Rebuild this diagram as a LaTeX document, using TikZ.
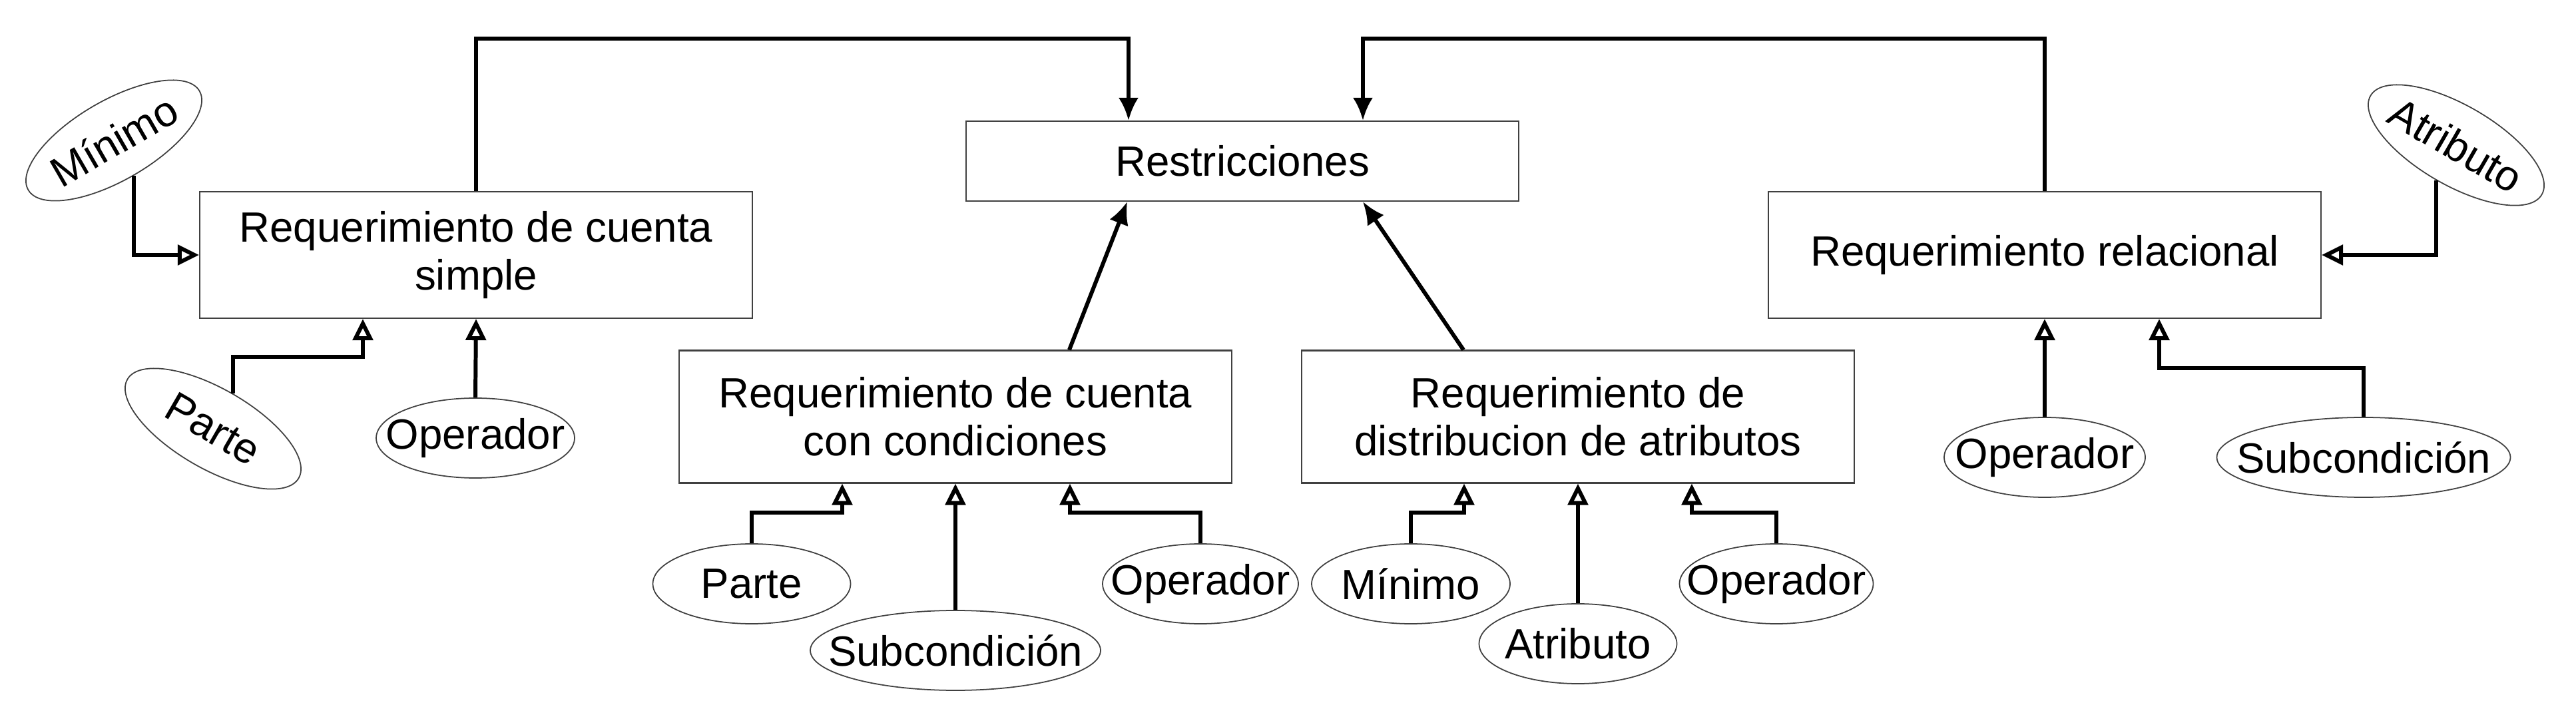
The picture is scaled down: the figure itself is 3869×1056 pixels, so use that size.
\documentclass[tikz,border=0pt]{standalone}
\usepackage{fontspec}
\setmainfont{Liberation Sans}
\usetikzlibrary{shapes.geometric,arrows.meta}
\tikzset{
  box/.style={draw=black!75, line width=0.6pt, minimum width=83mm, align=center,
    font=\fontsize{18.1}{20.5}\selectfont},
  attr/.style={ellipse, draw=black!75, line width=0.5pt, minimum height=12mm,
    inner xsep=-8mm, inner ysep=0pt, font=\fontsize{18.1}{20.5}\selectfont},
  link/.style={line width=1.7pt, -{Triangle[open,length=3.2mm,width=3mm]}},
  feed/.style={line width=1.7pt, -{Latex[length=3.4mm,width=3mm]}}
}
\begin{document}
\begin{tikzpicture}[x=0.1mm,y=-0.1mm]
  \useasboundingbox (0,0) rectangle (3869,1056);
  \draw
    (1866,242) node[box, minimum height=12mm] (restr){Restricciones}
    (715,383) node[box, minimum height=19mm] (simple){Requerimiento de cuenta\\simple}
    (3071,383) node[box, minimum height=19mm] (rel){Requerimiento relacional}
    (1435,626) node[box, minimum height=19.9mm] (cond){Requerimiento de cuenta\\con condiciones}
    (2370,626) node[box, minimum height=19.9mm] (dist){Requerimiento de\\distribucion de atributos};
  \draw
    (171,211) node[attr, minimum width=29.7mm, rotate=30] (minA){Mínimo}
    (320,644) node[attr, minimum width=29.7mm, rotate=-30] (parA){Parte}
    (714,658) node[attr, minimum width=29.8mm] (opA){Operador}
    (1129,877) node[attr, minimum width=29.7mm] (parB){Parte}
    (1435,977) node[attr, minimum width=43.6mm] (subB){Subcondición}
    (1803,877) node[attr, minimum width=29.4mm] (opB){Operador}
    (2119,877) node[attr, minimum width=29.8mm] (minC){Mínimo}
    (2370,967) node[attr, minimum width=29.7mm] (atrC){Atributo}
    (2668,877) node[attr, minimum width=29.1mm] (opC){Operador}
    (3689,218) node[attr, minimum width=29.7mm, rotate=-30] (atrD){Atributo}
    (3071,687) node[attr, minimum width=30.2mm] (opD){Operador}
    (3550,687) node[attr, minimum width=44.1mm] (subD){Subcondición};
  \begin{scope}[link]
    \draw (minA.south) |- (simple.west);
    \draw (parA.north) -- ++(0,-55) -| ([xshift=-17mm]simple.south);
    \draw (opA.north) -- (simple.south);
    \draw (parB.north) -- ++(0,-46) -| ([xshift=-17mm]cond.south);
    \draw (subB.north) -- (cond.south);
    \draw (opB.north) -- ++(0,-46) -| ([xshift=17.2mm]cond.south);
    \draw (minC.north) -- ++(0,-46) -| ([xshift=-17.1mm]dist.south);
    \draw (atrC.north) -- (dist.south);
    \draw (opC.north) -- ++(0,-46) -| ([xshift=17.1mm]dist.south);
    \draw (atrD.south) |- (rel.east);
    \draw (opD.north) -- (rel.south);
    \draw (subD.north) -- ++(0,-73) -| ([xshift=17.2mm]rel.south);
  \end{scope}
  \begin{scope}[feed]
    \draw (simple.north) -- ++(0,-229) -| ([xshift=-17.1mm]restr.north);
    \draw (rel.north) -- ++(0,-229) -| ([xshift=18.1mm]restr.north);
    \draw ([xshift=17.1mm]cond.north) -- ([xshift=-17.3mm]restr.south);
    \draw ([xshift=-17.2mm]dist.north) -- ([xshift=18.1mm]restr.south);
  \end{scope}
\end{tikzpicture}
\end{document}
